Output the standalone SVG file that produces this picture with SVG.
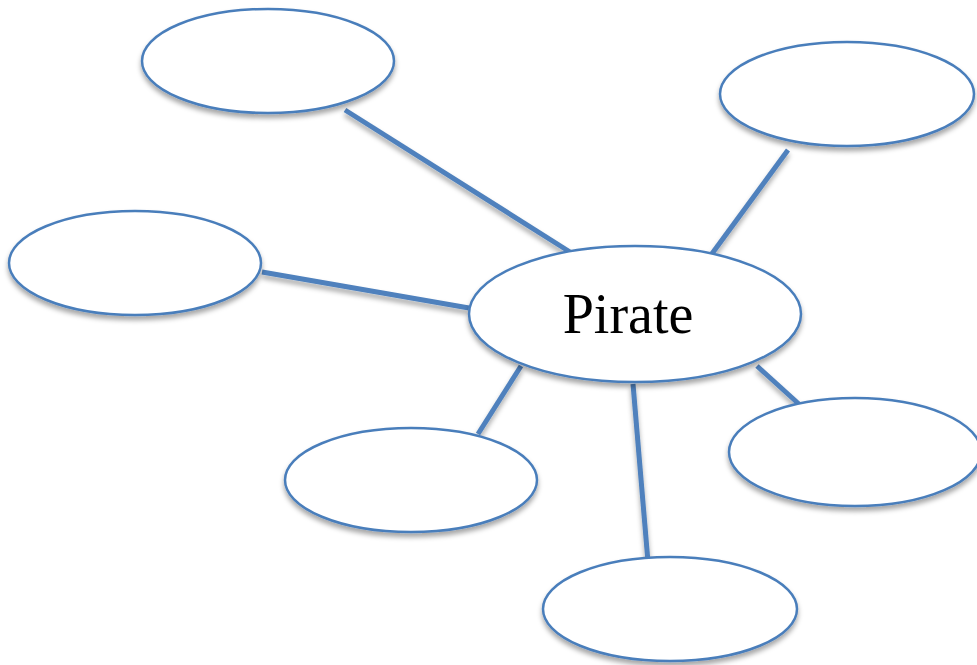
<svg xmlns="http://www.w3.org/2000/svg" width="977" height="665" viewBox="0 0 977 665">
<style>
.node{fill:#fff;stroke:#4a7ebb;stroke-width:2.5}
.conn{stroke:#4f81bd;stroke-width:5;stroke-linecap:butt;fill:none}
.lbl{font-family:"Liberation Serif","Times New Roman",serif;font-size:56px;fill:#000;text-anchor:middle}
</style>
<defs>
<filter id="sh" x="-10%" y="-10%" width="120%" height="135%">
<feDropShadow dx="0" dy="4" stdDeviation="2.5" flood-color="#000" flood-opacity="0.35"/>
</filter>
</defs>
<rect width="977" height="665" fill="#fff"/>
<g id="connectors" filter="url(#sh)">
<line class="conn" x1="345" y1="110" x2="570" y2="252"/>
<line class="conn" x1="788" y1="150" x2="711" y2="255"/>
<line class="conn" x1="262" y1="272" x2="469" y2="308"/>
<line class="conn" x1="521" y1="366" x2="478" y2="434"/>
<line class="conn" x1="633" y1="384" x2="648" y2="562"/>
<line class="conn" x1="757" y1="366" x2="800" y2="405"/>
</g>
<g id="n-topleft"><ellipse class="node" filter="url(#sh)" cx="268" cy="61" rx="126" ry="52"/></g>
<g id="n-topright"><ellipse class="node" filter="url(#sh)" cx="847" cy="94" rx="127" ry="52"/></g>
<g id="n-left"><ellipse class="node" filter="url(#sh)" cx="135" cy="263" rx="126" ry="52"/></g>
<g id="n-bottomleft"><ellipse class="node" filter="url(#sh)" cx="411" cy="480" rx="126" ry="52"/></g>
<g id="n-right"><ellipse class="node" filter="url(#sh)" cx="855" cy="452" rx="126" ry="54"/></g>
<g id="n-bottom"><ellipse class="node" filter="url(#sh)" cx="670" cy="609" rx="127" ry="52"/></g>
<g id="n-pirate"><ellipse class="node" filter="url(#sh)" cx="635" cy="314" rx="166" ry="68"/>
<text class="lbl" x="628" y="333">Pirate</text></g>
</svg>
